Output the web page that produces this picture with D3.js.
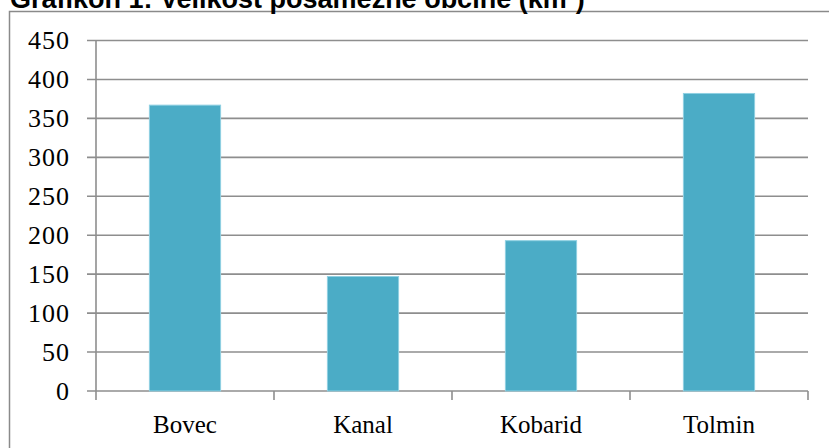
<!DOCTYPE html>
<html>
<head>
<meta charset="utf-8">
<script src="https://cdn.jsdelivr.net/npm/d3@7"></script>
<style>
  body { margin: 0; background: #fff; }
  svg { display: block; }
</style>
</head>
<body>
<svg id="chart" width="829" height="448"></svg>
<script>
var categories = ["Bovec", "Kanal", "Kobarid", "Tolmin"];
var values = [367, 147, 193, 382];
var yTicks = [0, 50, 100, 150, 200, 250, 300, 350, 400, 450];
var title = "Grafikon 1: Velikost posamezne občine (km²)";

var svg = d3.select("#chart");
var plotLeft = 96, plotRight = 808, plotTop = 40.5, plotBottom = 391;
var serif = "'Liberation Serif', 'Times New Roman', serif";

// frame round the chart, it runs off the right and bottom edge
svg.append("rect")
  .attr("x", 9.5).attr("y", 11.5)
  .attr("width", 900).attr("height", 500)
  .attr("fill", "none")
  .attr("stroke", "#8a8a8a")
  .attr("stroke-width", 1.5);

svg.append("text")
  .attr("x", 10).attr("y", 8)
  .attr("font-family", "'Liberation Sans', Arial, sans-serif")
  .attr("font-weight", "bold")
  .attr("font-size", 27)
  .attr("fill", "#000")
  .text(title);

var x = d3.scaleBand()
  .domain(categories)
  .range([plotLeft, plotRight])
  .paddingInner(0.6)
  .paddingOuter(0.3);

var y = d3.scaleLinear()
  .domain([0, 450])
  .range([plotBottom, plotTop]);

var step = x.step();

// horizontal grid + left ticks
svg.append("g").selectAll("line")
  .data(yTicks)
  .enter().append("line")
  .attr("x1", plotLeft - 9)
  .attr("x2", plotRight)
  .attr("y1", d => y(d))
  .attr("y2", d => y(d))
  .attr("stroke", "#8e8e8e")
  .attr("stroke-width", 1.6);

// vertical axis
svg.append("line")
  .attr("x1", plotLeft).attr("x2", plotLeft)
  .attr("y1", y(450)).attr("y2", plotBottom + 9)
  .attr("stroke", "#8e8e8e")
  .attr("stroke-width", 1.6);

// category boundary ticks
var bounds = categories.map(c => x(c) - step * 0.3).concat([plotRight]);
svg.append("g").selectAll("line")
  .data(bounds.slice(1))
  .enter().append("line")
  .attr("x1", d => d).attr("x2", d => d)
  .attr("y1", plotBottom).attr("y2", plotBottom + 9)
  .attr("stroke", "#8e8e8e")
  .attr("stroke-width", 1.6);

// bars
svg.append("g").selectAll("rect")
  .data(values)
  .enter().append("rect")
  .attr("x", (d, i) => x(categories[i]))
  .attr("width", x.bandwidth())
  .attr("y", d => y(d))
  .attr("height", d => y(0) - y(d))
  .attr("fill", "#4bacc6")
  .attr("stroke", "#8fd0e2")
  .attr("stroke-width", 1);

// y labels
svg.append("g").selectAll("text")
  .data(yTicks)
  .enter().append("text")
  .attr("x", 70)
  .attr("y", d => y(d))
  .attr("dy", "0.34em")
  .attr("text-anchor", "end")
  .attr("font-family", serif)
  .attr("font-size", 26)
  .attr("letter-spacing", 1)
  .attr("fill", "#000")
  .text(d => d);

// x labels
svg.append("g").selectAll("text")
  .data(categories)
  .enter().append("text")
  .attr("x", d => x(d) + x.bandwidth() / 2)
  .attr("y", 433)
  .attr("text-anchor", "middle")
  .attr("font-family", serif)
  .attr("font-size", 25)
  .attr("fill", "#000")
  .text(d => d);
</script>
</body>
</html>
